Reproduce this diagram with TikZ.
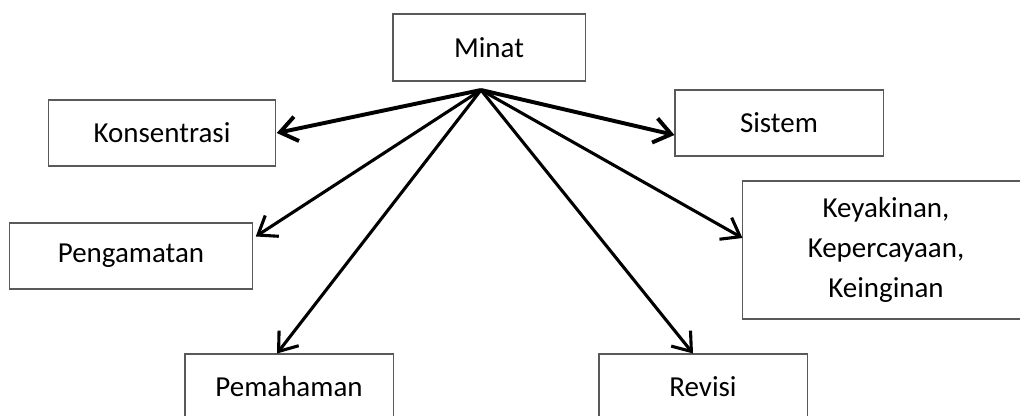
\documentclass[tikz,border=0pt]{standalone}
\usepackage{fontspec}
\setmainfont{Carlito}
\usetikzlibrary{arrows.meta}

\begin{document}
\begin{tikzpicture}[x=0.025cm, y=-0.025cm, >={Straight Barb[length=0.42cm,width=0.62cm]},
    every node/.style={font=\fontsize{20.6}{28.5}\selectfont},
    box/.style={draw=black!65, line width=0.75pt, align=center, inner sep=0pt},
    link/.style={->, line width=2.2pt}]
    \useasboundingbox (0,0) rectangle (1020,415);
    \clip (0,0) rectangle (1020,415);
    % boxes
    \node[box, minimum width=4.8cm, minimum height=1.675cm] (minat) at (489,47.5) {Minat};
    \node[box, minimum width=5.65cm, minimum height=1.65cm] (kons) at (162,133) {Konsentrasi};
    \node[box, minimum width=5.2cm, minimum height=1.65cm] (sistem) at (779,123) {Sistem};
    \node[box, minimum width=6.05cm, minimum height=1.65cm] (peng) at (131,256) {Pengamatan};
    \node[box, minimum width=7.15cm, minimum height=3.45cm] (keyak) at (886,250) {Keyakinan,\\Kepercayaan,\\Keinginan};
    \node[box, minimum width=5.2cm, minimum height=1.65cm] (pem) at (289,387) {Pemahaman};
    \node[box, minimum width=5.2cm, minimum height=1.65cm] (rev) at (703,387) {Revisi};
    % arrows
    \coordinate (hub) at (481,90);
    \draw[link, line width=2.8pt] (hub) -- ([xshift=0.03cm]kons.east);
    \draw[link, line width=2.8pt] (hub) -- ([yshift=-0.3cm]sistem.west);
    \draw[link] (hub) -- ([shift={(0.08cm,-0.35cm)}]peng.north east);
    \draw[link] (hub) -- ([yshift=0.3cm]keyak.west);
    \draw[link] (hub) -- ([xshift=-0.3cm]pem.north);
    \draw[link] (hub) -- ([xshift=-0.25cm]rev.north);
\end{tikzpicture}
\end{document}
